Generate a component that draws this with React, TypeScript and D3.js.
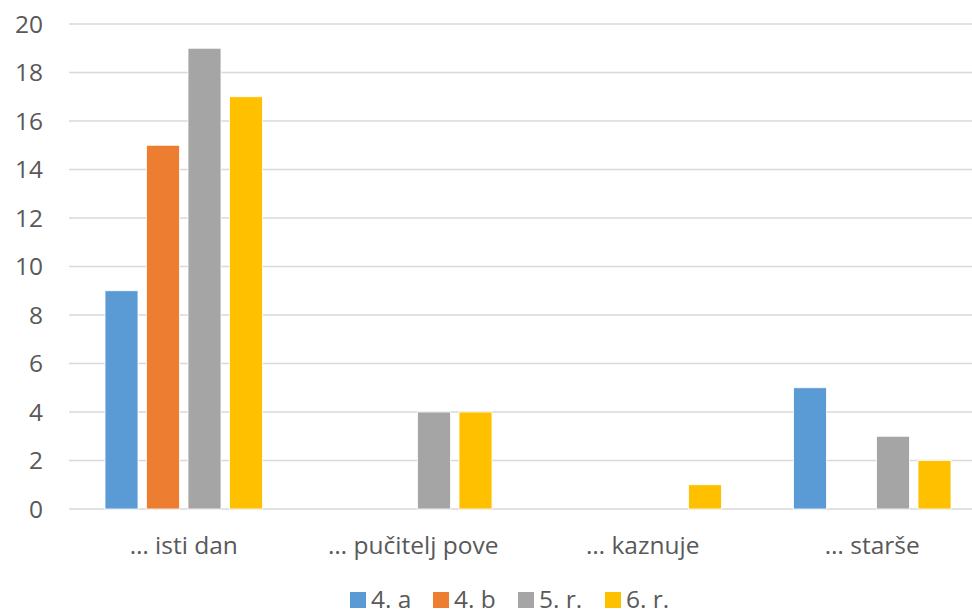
import React from "react";
import * as d3 from "d3";

const categories = ["… isti dan", "… pučitelj pove", "… kaznuje", "… starše"];
const seriesNames = ["4. a", "4. b", "5. r.", "6. r."];
const series4a = [9, 0, 0, 5];
const series4b = [15, 0, 0, 0];
const series5r = [19, 4, 0, 3];
const series6r = [17, 4, 1, 2];
const seriesColors = ["#5B9BD5", "#ED7D31", "#A5A5A5", "#FFC000"];
const yTicks = [0, 2, 4, 6, 8, 10, 12, 14, 16, 18, 20];

const W = 972;
const H = 610;
const FONT = "'Open Sans', 'Liberation Sans', sans-serif";
const TEXT = "#595959";
const FS = 24.5;

export default function App() {
  const allSeries = [series4a, series4b, series5r, series6r];
  const left = 69;
  const right = 987;
  const top = 24;
  const bottom = 509;

  const y = d3.scaleLinear().domain([0, 20]).range([bottom, top]);
  const x0 = d3.scaleBand<string>().domain(categories).range([left, right]).paddingInner(0).paddingOuter(0);
  const band = x0.bandwidth();
  const outer = 36;
  const x1 = d3
    .scaleBand<string>()
    .domain(seriesNames)
    .range([outer, band - outer])
    .paddingInner(0.205)
    .paddingOuter(0);

  const legendX = [350, 433, 518, 605];

  return (
    <svg width={W} height={H} style={{ position: "absolute", left: 0, top: 0, background: "#fff" }}>
      {yTicks.map((t) => (
        <g key={t}>
          <line x1={left} x2={W} y1={y(t)} y2={y(t)} stroke="#D9D9D9" strokeWidth={1.5} />
          <text
            x={43}
            y={y(t)}
            dy="0.36em"
            textAnchor="end"
            fontFamily={FONT}
            fontSize={FS}
            fill={TEXT}
          >
            {t}
          </text>
        </g>
      ))}
      {categories.map((c, ci) => (
        <g key={c} transform={`translate(${x0(c)},0)`}>
          {allSeries.map((s, si) => {
            const v = s[ci];
            if (v <= 0) return null;
            return (
              <rect
                key={si}
                x={x1(seriesNames[si])}
                y={y(v)}
                width={x1.bandwidth()}
                height={y(0) - y(v)}
                fill={seriesColors[si]}
                stroke="#fff"
                strokeWidth={0.8}
              />
            );
          })}
          <text
            x={band / 2}
            y={554}
            textAnchor="middle"
            fontFamily={FONT}
            fontSize={FS}
            fill={TEXT}
          >
            {c}
          </text>
        </g>
      ))}
      {seriesNames.map((n, i) => (
        <g key={n}>
          <rect x={legendX[i]} y={592} width={16} height={16} fill={seriesColors[i]} />
          <text x={legendX[i] + 21} y={608} fontFamily={FONT} fontSize={FS} fill={TEXT}>
            {n}
          </text>
        </g>
      ))}
    </svg>
  );
}
